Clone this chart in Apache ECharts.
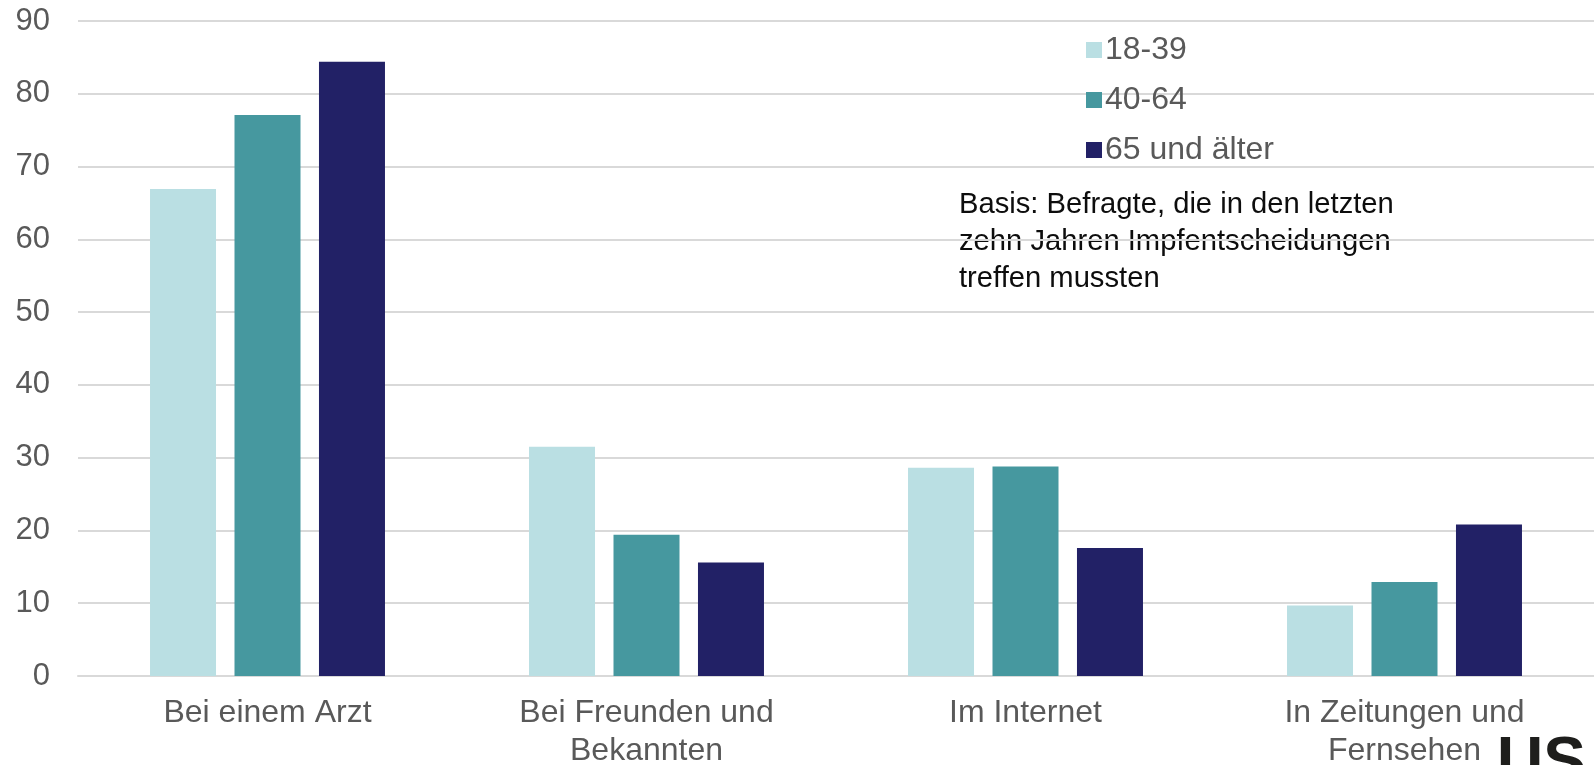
<!DOCTYPE html>
<html>
<head>
<meta charset="utf-8">
<script src="https://cdn.jsdelivr.net/npm/echarts@6/dist/echarts.min.js"></script>
<style>
  html, body { margin: 0; padding: 0; background: #fff; }
  #chart-panel { width: 1594px; height: 765px; }
</style>
</head>
<body>
<div id="chart-panel"></div>
<script>
// Kategorien und Werte
var categories = ['Bei einem Arzt', 'Bei Freunden und\nBekannten', 'Im Internet', 'In Zeitungen und\nFernsehen'];
var seriesNames = ['18-39', '40-64', '65 und älter'];
var values1839 = [66.9, 31.5, 28.6, 9.7];
var values4064 = [77.1, 19.4, 28.8, 12.9];
var values65 = [84.4, 15.6, 17.6, 20.8];
var colors = ['#badfe3', '#46989f', '#222166'];

var myChart = echarts.init(document.getElementById('chart-panel'));
var fontFam = 'Liberation Sans, Arial, sans-serif';

var option = {
    animation: false,
    textStyle: { fontFamily: fontFam },
    grid: {
        left: 78,
        right: 0,
        top: 21,
        bottom: 89,
        outerBoundsMode: 'none'
    },
    legend: {
        orient: 'vertical',
        left: 1081,
        top: 29,
        itemWidth: 16,
        itemHeight: 16,
        itemGap: 18,
        icon: 'rect',
        data: seriesNames,
        textStyle: {
            fontSize: 32,
            lineHeight: 32,
            color: '#595959',
            padding: [0, 0, 0, -2]
        }
    },
    xAxis: {
        type: 'category',
        data: categories,
        axisLine: { lineStyle: { color: '#d9d9d9', width: 2 } },
        axisTick: { show: false },
        axisLabel: {
            fontSize: 32,
            lineHeight: 38,
            color: '#595959',
            margin: 18,
            interval: 0
        }
    },
    yAxis: {
        type: 'value',
        min: 0,
        max: 90,
        interval: 10,
        axisLine: { show: false },
        axisTick: { show: false },
        axisLabel: { fontSize: 31, color: '#595959', margin: 28 },
        splitLine: { lineStyle: { color: '#d9d9d9', width: 2 } }
    },
    series: [
        { name: seriesNames[0], type: 'bar', data: values1839, barWidth: 66, barGap: '28%', itemStyle: { color: colors[0] } },
        { name: seriesNames[1], type: 'bar', data: values4064, barWidth: 66, barGap: '28%', itemStyle: { color: colors[1] } },
        { name: seriesNames[2], type: 'bar', data: values65, barWidth: 66, barGap: '28%', itemStyle: { color: colors[2] } }
    ],
    graphic: [
        {
            type: 'text',
            left: 959,
            top: 186,
            style: {
                text: 'Basis: Befragte, die in den letzten\nzehn Jahren Impfentscheidungen\ntreffen mussten',
                font: '29.2px ' + fontFam,
                lineHeight: 37,
                fill: '#0d0d0d'
            }
        },
        {
            type: 'text',
            left: 1497,
            top: 732,
            style: {
                text: 'US',
                font: 'bold 64px ' + fontFam,
                fill: '#1e1e1c'
            }
        }
    ]
};
myChart.setOption(option);
</script>
</body>
</html>
